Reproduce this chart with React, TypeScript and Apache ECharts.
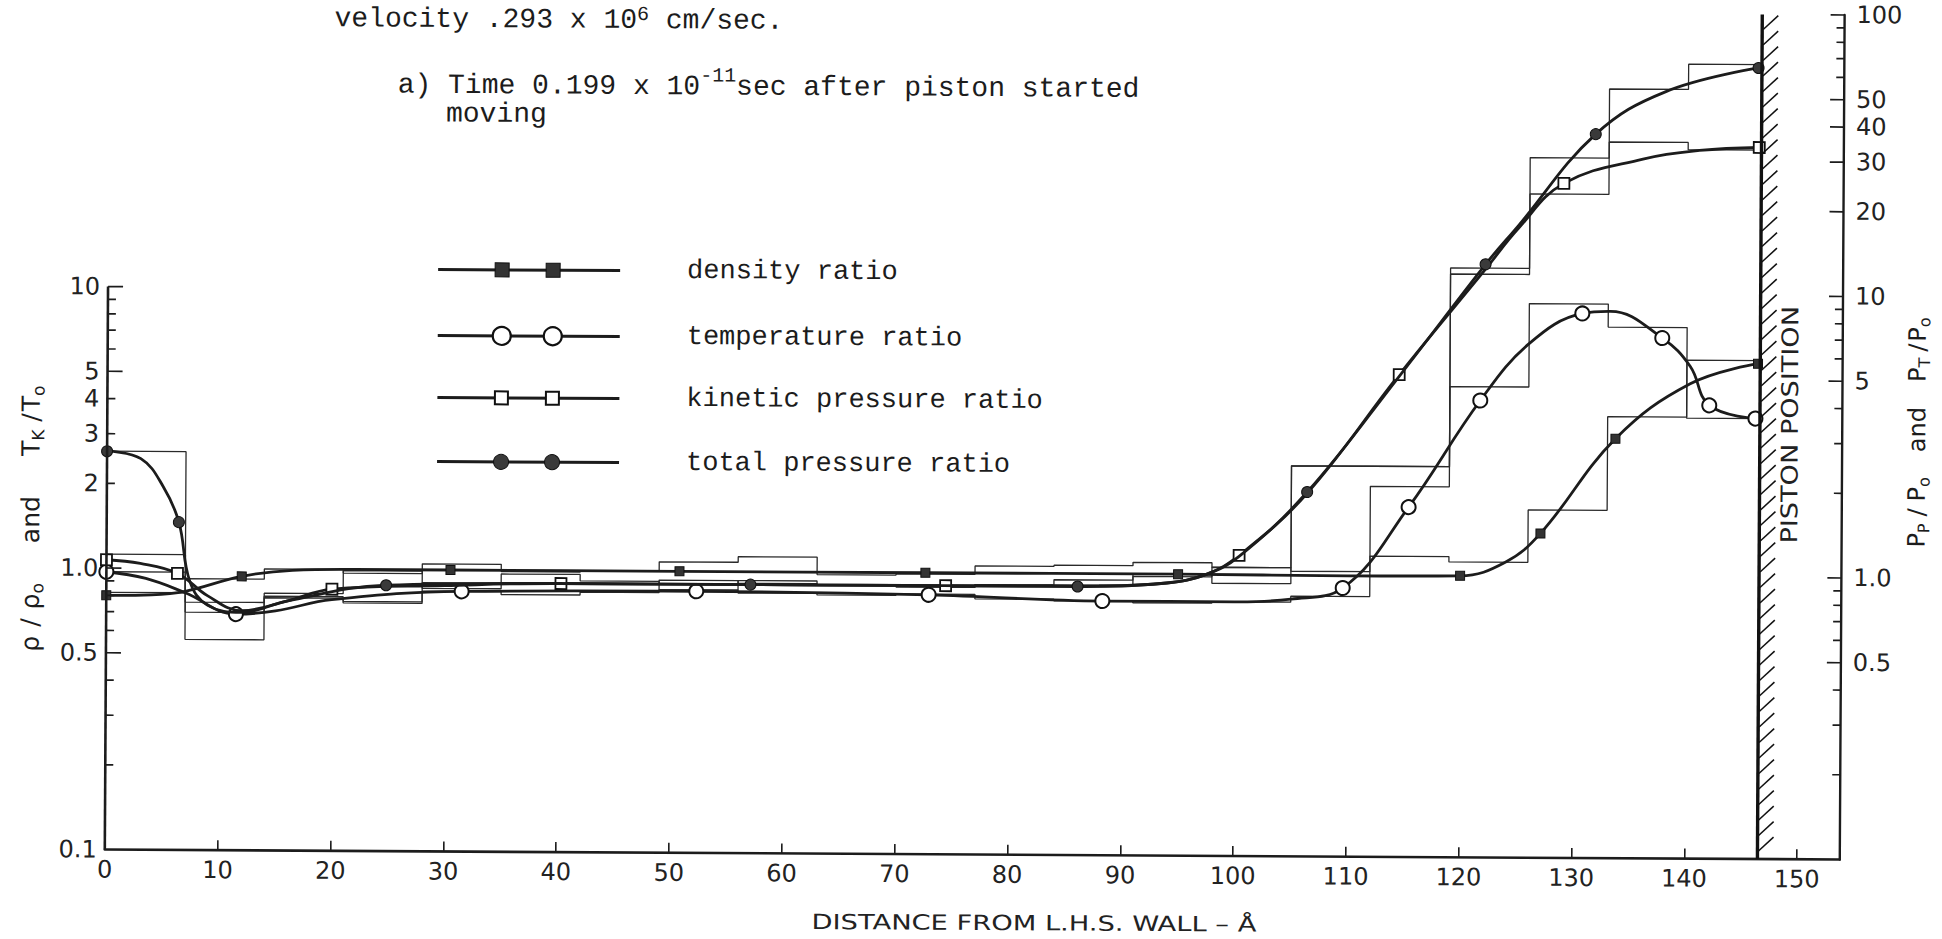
import React, { useEffect, useRef } from "react";
import * as echarts from "echarts";

// ---------------- data ----------------
const xTickValues = [0, 10, 20, 30, 40, 50, 60, 70, 80, 90, 100, 110, 120, 130, 140, 150];
const xMin = 0;
const xMax = 153.8;
const yMin = 0.1;
const yMax = 100;
const leftAxisTop = 10;
const pistonX = 146.5;

const leftTickValues = [0.2, 0.3, 0.4, 0.5, 0.6, 0.7, 0.8, 0.9, 1, 2, 3, 4, 5, 6, 7, 8, 9, 10];
const leftMajorTicks = [0.5, 1, 5, 10];
const leftLabelValues = [0.1, 0.5, 1, 2, 3, 4, 5, 10];
const leftLabelTexts = ["0.1", "0.5", "1.0", "2", "3", "4", "5", "10"];

const rightTickValues = [0.2, 0.3, 0.4, 0.5, 0.6, 0.7, 0.8, 0.9, 1, 2, 3, 4, 5, 6, 7, 8, 9, 10, 20, 30, 40, 50, 60, 70, 80, 90, 100];
const rightMajorTicks = [0.5, 1, 5, 10, 20, 30, 40, 50, 100];
const rightLabelValues = [0.5, 1, 5, 10, 20, 30, 40, 50, 100];
const rightLabelTexts = ["0.5", "1.0", "5", "10", "20", "30", "40", "50", "100"];

// histogram cells (Å)
const binEdges = [0, 7, 14, 21, 28, 35, 42, 49, 56, 63, 70, 77, 84, 91, 98, 105, 112, 119, 126, 133, 140, 146.5];

const densitySteps = [0.82, 0.92, 1.0, 0.97, 1.05, 0.99, 1.0, 1.08, 1.13, 0.98, 0.99, 1.06, 1.07, 1.1, 1.06, 1.03, 1.17, 1.12, 1.72, 3.7, 5.9];
const temperatureSteps = [0.97, 0.7, 0.79, 0.77, 0.84, 0.82, 0.84, 0.86, 0.84, 0.83, 0.84, 0.81, 0.8, 0.79, 0.8, 0.84, 2.07, 4.7, 9.3, 7.7, 3.67];
const kineticSteps = [1.12, 0.76, 0.82, 0.99, 0.86, 0.9, 0.9, 0.93, 0.91, 0.9, 0.89, 0.91, 0.95, 1.0, 0.93, 2.44, 2.44, 11.8, 22.8, 35, 33];
const totalSteps = [2.6, 0.56, 0.8, 0.76, 0.9, 0.97, 0.92, 0.86, 0.93, 0.9, 0.89, 0.91, 0.91, 0.98, 1.06, 2.44, 2.44, 12.4, 30.7, 54, 66.4];

// smooth curves (1 = plotted point marker, 0 = curve only)
const densityX = [0, 4, 7, 12, 16.5, 22, 30.5, 50.8, 72.6, 95, 110, 120, 124, 127.1, 133.7, 140.3, 146.3];
const densityY = [0.8, 0.805, 0.83, 0.94, 0.99, 1.0, 1.0, 1.0, 1.0, 1.0, 0.995, 1.0, 1.12, 1.42, 3.09, 4.86, 5.75];
const densityMarked = [1, 0, 0, 1, 0, 0, 1, 1, 1, 1, 0, 1, 0, 1, 1, 0, 1];

const temperatureX = [0, 3.5, 7, 11.5, 15, 20, 31.5, 52.3, 72.9, 88.3, 100, 105, 109.6, 115.4, 121.7, 126, 130.7, 133.2, 137.8, 140.3, 142, 146.1];
const temperatureY = [0.97, 0.92, 0.82, 0.69, 0.71, 0.78, 0.84, 0.85, 0.835, 0.8, 0.8, 0.82, 0.9, 1.75, 4.2, 6.7, 8.6, 8.76, 7.06, 5.6, 4.08, 3.67];
const temperatureMarked = [1, 0, 0, 1, 0, 0, 1, 1, 1, 1, 0, 0, 1, 1, 1, 0, 1, 0, 1, 0, 1, 1];

const kineticX = [0, 3, 6.3, 9, 12, 16, 20, 30, 40.3, 60, 74.4, 88, 94, 97.5, 100.4, 106.4, 114.5, 122.1, 125, 129, 136, 141, 146.3];
const kineticY = [1.07, 1.04, 0.96, 0.8, 0.71, 0.77, 0.85, 0.88, 0.9, 0.9, 0.9, 0.905, 0.93, 1.0, 1.17, 1.95, 5.17, 12.3, 17.2, 24.9, 30.5, 32.8, 33.7];
const kineticMarked = [1, 0, 1, 0, 0, 0, 1, 0, 1, 0, 1, 0, 0, 0, 1, 0, 1, 0, 0, 1, 0, 0, 1];

const totalX = [0, 3, 5, 6.4, 7.4, 9, 12, 16, 24.8, 40, 57.1, 70, 86.1, 94, 97.5, 100.4, 106.4, 114.5, 122.1, 125, 131.8, 138, 146.2];
const totalY = [2.6, 2.45, 1.95, 1.46, 0.9, 0.74, 0.7, 0.77, 0.88, 0.9, 0.9, 0.9, 0.9, 0.93, 1.0, 1.16, 1.97, 5.1, 12.8, 17.6, 37.3, 53, 64.6];
const totalMarked = [1, 0, 0, 1, 0, 0, 0, 0, 1, 0, 1, 0, 1, 0, 0, 0, 1, 0, 1, 0, 1, 0, 1];

const seriesNames = ["density ratio", "temperature ratio", "kinetic pressure ratio", "total pressure ratio"];

// ---------------- styling ----------------
const INK = "#1c1c1c";
const SANS = '"DejaVu Sans", sans-serif';
const MONO = '"Liberation Mono", "DejaVu Sans Mono", monospace';

const markerStyles = [
  { symbol: "rect", size: 9, fill: "#333", stroke: "#111", lw: 1 },
  { symbol: "circle", size: 14, fill: "#fff", stroke: "#111", lw: 2 },
  { symbol: "rect", size: 11, fill: "#fff", stroke: "#111", lw: 1.8 },
  { symbol: "circle", size: 11, fill: "#3a3a3a", stroke: "#111", lw: 1 },
];

function stepData(values: number[]) {
  const pts: number[][] = [];
  values.forEach((v, i) => {
    pts.push([binEdges[i], v]);
    pts.push([binEdges[i + 1], v]);
  });
  return pts;
}

function curveData(xs: number[], ys: number[], marked: number[]) {
  return xs.map((x, i) => (marked[i] ? { value: [x, ys[i]] } : { value: [x, ys[i]], symbol: "none" }));
}

const stepSets = [densitySteps, temperatureSteps, kineticSteps, totalSteps];
const curveSets = [
  curveData(densityX, densityY, densityMarked),
  curveData(temperatureX, temperatureY, temperatureMarked),
  curveData(kineticX, kineticY, kineticMarked),
  curveData(totalX, totalY, totalMarked),
];

const tickItems = [
  ...leftTickValues.map((v) => ({ x: xMin, v, len: leftMajorTicks.includes(v) ? 15 : 8, dir: 1 })),
  ...rightTickValues.map((v) => ({ x: xMax, v, len: rightMajorTicks.includes(v) ? 14 : 8, dir: -1 })),
];
const labelItems = [
  ...leftLabelValues.map((v, i) => ({ x: xMin, v, text: leftLabelTexts[i], side: "L" })),
  ...rightLabelValues.map((v, i) => ({ x: xMax, v, text: rightLabelTexts[i], side: "R" })),
];

// ---------------- text helpers ----------------
type Piece = { t: string; size: number; dy?: number; gap?: number };

function textRun(pieces: Piece[], family: string, x: number, y: number, rotation: number, anchor: "left" | "center", extra: any = {}) {
  const ctx = document.createElement("canvas").getContext("2d") as CanvasRenderingContext2D;
  const widths = pieces.map((p) => {
    ctx.font = `${p.size}px ${family}`;
    return ctx.measureText(p.t).width;
  });
  const total = pieces.reduce((s, p, i) => s + (p.gap || 0) + widths[i], 0);
  let cx = anchor === "center" ? -total / 2 : 0;
  const children = pieces.map((p, i) => {
    cx += p.gap || 0;
    const el = {
      type: "text",
      x: cx,
      y: p.dy || 0,
      style: {
        text: p.t,
        font: `${p.size}px ${family}`,
        fill: INK,
        align: "left",
        verticalAlign: "middle",
        textAlign: "left",
        textVerticalAlign: "middle",
      },
    };
    cx += widths[i];
    return el;
  });
  return { type: "group", x, y, rotation, children, ...extra };
}

function legendGraphics() {
  const legendYs = [272.6, 338.6, 400.6, 464.6];
  const els: any[] = [];
  seriesNames.forEach((name, i) => {
    const y = legendYs[i];
    els.push({ type: "line", shape: { x1: 437, y1: y, x2: 619, y2: y }, style: { stroke: INK, lineWidth: 3 } });
    [501, 552].forEach((cx) => {
      if (i === 0) els.push({ type: "rect", shape: { x: cx - 7, y: y - 7, width: 14, height: 14 }, style: { fill: "#333", stroke: "#111", lineWidth: 1 } });
      if (i === 1) els.push({ type: "circle", shape: { cx, cy: y, r: 9 }, style: { fill: "#fff", stroke: "#111", lineWidth: 2.2 } });
      if (i === 2) els.push({ type: "rect", shape: { x: cx - 6.5, y: y - 6.5, width: 13, height: 13 }, style: { fill: "#fff", stroke: "#111", lineWidth: 2 } });
      if (i === 3) els.push({ type: "circle", shape: { cx, cy: y, r: 7.5 }, style: { fill: "#3a3a3a", stroke: "#111", lineWidth: 1 } });
    });
    els.push({
      type: "text",
      x: 686,
      y,
      style: { text: name, font: `27px ${MONO}`, fill: INK, align: "left", verticalAlign: "middle", textAlign: "left", textVerticalAlign: "middle" },
    });
  });
  return els;
}

function buildGraphics() {
  const R = Math.PI / 2;
  return [
    textRun([{ t: "velocity .293 x 10", size: 28 }, { t: "6", size: 20, dy: -6 }, { t: "cm/sec.", size: 28, gap: 16.8 }], MONO, 332, 22.4, 0, "left"),
    textRun(
      [{ t: "a) Time 0.199 x 10", size: 28 }, { t: "-11", size: 20, dy: -11 }, { t: "sec after piston started", size: 28 }],
      MONO,
      395.5,
      88.4,
      0,
      "left"
    ),
    textRun([{ t: "moving", size: 28 }], MONO, 444, 117, 0, "left"),
    ...legendGraphics(),
    {
      type: "text",
      x: 1036.6,
      y: 922.6,
      scaleX: 1.3,
      style: { text: "DISTANCE FROM L.H.S. WALL – Å", font: `21px ${SANS}`, fill: "#222", align: "center", verticalAlign: "middle", textAlign: "center", textVerticalAlign: "middle" },
    },
    {
      type: "text",
      x: 1789.7,
      y: 420,
      rotation: R,
      scaleX: 1.18,
      style: { text: "PISTON POSITION", font: `23px ${SANS}`, fill: "#222", align: "center", verticalAlign: "middle", textAlign: "center", textVerticalAlign: "middle" },
    },
    textRun(
      [
        { t: "ρ", size: 25 },
        { t: "/", size: 25, gap: 9 },
        { t: "ρ", size: 25, gap: 9 },
        { t: "o", size: 17, dy: 7 },
        { t: "and", size: 25, gap: 40 },
        { t: "T", size: 25, gap: 40 },
        { t: "K", size: 17, dy: 7 },
        { t: "/", size: 25, gap: 8 },
        { t: "T", size: 25, gap: 2 },
        { t: "o", size: 17, dy: 7 },
      ],
      SANS,
      31,
      524,
      R,
      "center"
    ),
    textRun(
      [
        { t: "P", size: 24 },
        { t: "P", size: 16, dy: 7 },
        { t: "/", size: 24, gap: 7 },
        { t: "P", size: 24, gap: 7 },
        { t: "o", size: 16, dy: 7 },
        { t: "and", size: 24, gap: 25 },
        { t: "P", size: 24, gap: 25 },
        { t: "T", size: 16, dy: 7 },
        { t: "/", size: 24, gap: 6 },
        { t: "P", size: 24, gap: 2 },
        { t: "o", size: 16, dy: 7 },
      ],
      SANS,
      1917,
      427,
      R,
      "center"
    ),
  ];
}

function buildOption(): any {
  return {
    animation: false,
    backgroundColor: "#fff",
    grid: { left: 107, right: 100, top: 10, bottom: 84.5, containLabel: false },
    xAxis: {
      type: "value",
      min: xMin,
      max: xMax,
      splitLine: { show: false },
      axisLine: { show: true, onZero: false, lineStyle: { color: INK, width: 2.6 } },
      axisTick: { show: true, inside: true, length: 10, lineStyle: { color: INK, width: 1.6 }, customValues: xTickValues.filter((v) => v > 0) },
      axisLabel: {
        show: true,
        customValues: xTickValues,
        formatter: (v: number) => (xTickValues.includes(v) ? String(v) : ""),
        fontFamily: SANS,
        fontSize: 24,
        color: "#222",
        margin: 8,
      },
    },
    yAxis: {
      type: "log",
      logBase: 10,
      min: yMin,
      max: yMax,
      position: "right",
      splitLine: { show: false },
      axisLine: { show: true, onZero: false, lineStyle: { color: INK, width: 2.4 } },
      axisTick: { show: false },
      axisLabel: { show: false },
    },
    graphic: buildGraphics(),
    series: [
      ...stepSets.map((vals, i) => ({
        type: "line",
        name: seriesNames[i] + " (cell)",
        data: stepData(vals),
        symbol: "none",
        silent: true,
        z: 1,
        lineStyle: { color: "#2a2a2a", width: 1.3 },
      })),
      {
        type: "line",
        name: "left axis",
        data: [
          [xMin, yMin],
          [xMin, leftAxisTop],
        ],
        symbol: "none",
        silent: true,
        z: 4,
        lineStyle: { color: INK, width: 2.6 },
      },
      ...curveSets.map((data, i) => ({
        type: "line",
        name: seriesNames[i],
        data,
        smooth: 0.4,
        showSymbol: true,
        symbol: markerStyles[i].symbol,
        symbolSize: markerStyles[i].size,
        clip: false,
        silent: true,
        z: 3 + i * 0.1,
        itemStyle: { color: markerStyles[i].fill, borderColor: markerStyles[i].stroke, borderWidth: markerStyles[i].lw, opacity: 1 },
        lineStyle: { color: INK, width: 2.8 },
      })),
      {
        type: "custom",
        name: "ticks",
        silent: true,
        z: 5,
        data: tickItems.map((t) => [t.x, t.v]),
        renderItem: (params: any, api: any) => {
          const t = tickItems[params.dataIndex];
          const p = api.coord([api.value(0), api.value(1)]);
          return {
            type: "line",
            shape: { x1: p[0], y1: p[1], x2: p[0] + t.dir * t.len, y2: p[1] },
            style: { stroke: INK, lineWidth: 1.7 },
          };
        },
      },
      {
        type: "custom",
        name: "tick labels",
        silent: true,
        z: 5,
        data: labelItems.map((t) => [t.x, t.v]),
        renderItem: (params: any, api: any) => {
          const t = labelItems[params.dataIndex];
          const p = api.coord([api.value(0), api.value(1)]);
          const left = t.side === "L";
          return {
            type: "text",
            style: {
              text: t.text,
              x: left ? p[0] - 8 : p[0] + 12,
              y: p[1],
              font: `24px ${SANS}`,
              fill: "#222",
              align: left ? "right" : "left",
              verticalAlign: "middle",
              textAlign: left ? "right" : "left",
              textVerticalAlign: "middle",
            },
          };
        },
      },
      {
        type: "custom",
        name: "piston",
        silent: true,
        z: 6,
        data: [[pistonX, yMax]],
        renderItem: (params: any, api: any) => {
          const top = api.coord([api.value(0), yMax]);
          const bot = api.coord([api.value(0), yMin]);
          const children: any[] = [
            { type: "line", shape: { x1: top[0], y1: top[1], x2: bot[0], y2: bot[1] }, style: { stroke: "#111", lineWidth: 3.4 } },
          ];
          for (let y = top[1] + 15; y <= bot[1] + 1; y += 15.5) {
            children.push({ type: "line", shape: { x1: top[0] + 1, y1: y, x2: top[0] + 16, y2: y - 14 }, style: { stroke: "#111", lineWidth: 1.5 } });
          }
          return { type: "group", children };
        },
      },
    ],
  };
}

export default function App() {
  const ref = useRef<HTMLDivElement>(null);
  useEffect(() => {
    if (!ref.current) return;
    const chart = echarts.init(ref.current, null, { renderer: "svg" });
    chart.setOption(buildOption());
    return () => {
      chart.dispose();
    };
  }, []);
  return (
    <div style={{ position: "fixed", left: 0, top: 0, width: 1942, height: 939, overflow: "hidden", background: "#fff" }}>
      <div ref={ref} style={{ width: 1942, height: 939, transform: "rotate(0.33deg)", transformOrigin: "50% 50%" }} />
    </div>
  );
}
